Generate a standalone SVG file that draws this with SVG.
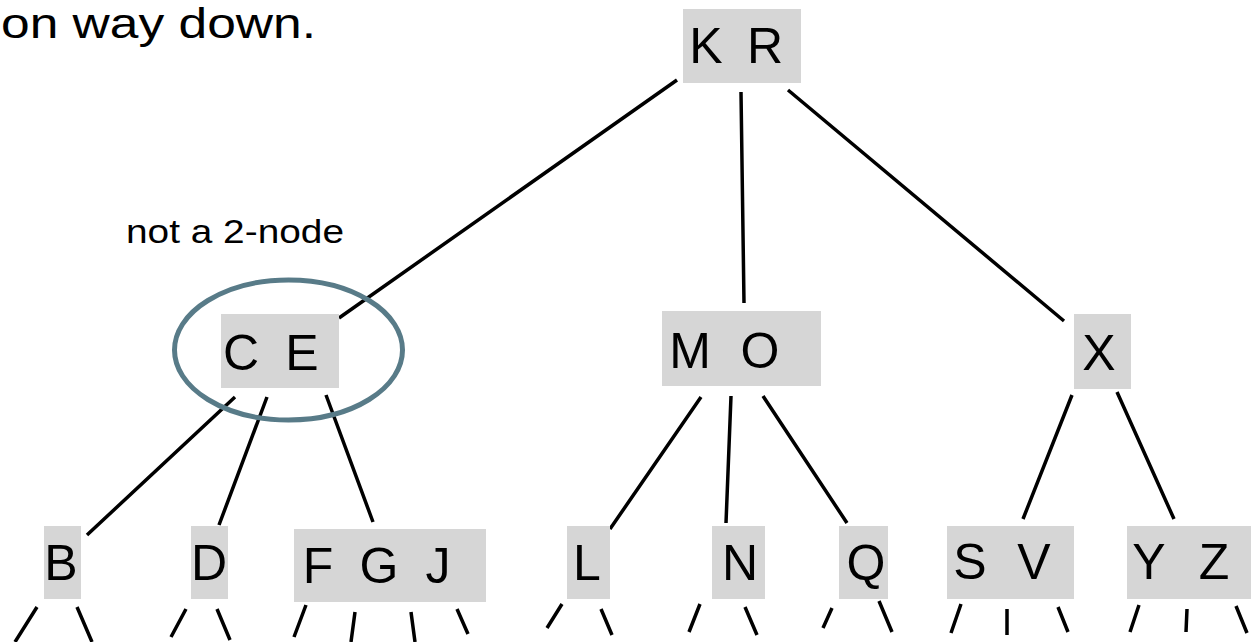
<svg xmlns="http://www.w3.org/2000/svg" width="1252" height="642" viewBox="0 0 1252 642">
<style>
.box{fill:#d6d6d6}
.k{font-family:"Liberation Sans","DejaVu Sans",sans-serif;font-size:50px;fill:#000;text-anchor:middle}
.edge{stroke:#000;stroke-width:3.5;stroke-linecap:butt;fill:none}
.lbl{font-family:"Liberation Sans",Arial,sans-serif;fill:#000}
</style>
<rect width="1252" height="642" fill="#fff"/>
<text class="lbl" x="1" y="38" font-size="42" textLength="315" lengthAdjust="spacingAndGlyphs">on way down.</text>
<text class="lbl" x="126" y="243" font-size="34" textLength="218" lengthAdjust="spacingAndGlyphs">not a 2-node</text>
<g id="connectors">
<path class="edge" d="M677 80L339 318M741 92L744 303M788 90L1064 321"/>
<path class="edge" d="M235 397L87 535M267 397L219 525M326 395L373 522"/>
<path class="edge" d="M701 397L610 529M731 396L726 523M763 396L847 523"/>
<path class="edge" d="M1072 395L1023 519M1117 392L1174 519"/>
<path class="edge" d="M37 607L15 642M77 607L92 642M186 609L171 637M217 609L230 640M306 605L294 637M355 612L351 642M411 612L415 642M457 609L468 634"/>
<path class="edge" d="M562 604L547 628M601 609L612 635M700 604L689 632M745 607L757 635M832 608L823 628M879 601L892 632"/>
<path class="edge" d="M961 604L951 633M1007 609L1007 635M1058 607L1068 632M1139 605L1130 632M1187 609L1186 632M1236 606L1247 633"/>
</g>
<g id="node-KR"><rect class="box" x="683" y="9" width="118" height="74"/><text class="k" x="706" y="63">K</text><text class="k" x="765" y="63">R</text></g>
<g id="node-CE"><rect class="box" x="221" y="314" width="118" height="74"/><text class="k" x="241" y="370">C</text><text class="k" x="302" y="370">E</text></g>
<g id="highlight"><ellipse cx="288.5" cy="350" rx="114" ry="70" fill="none" stroke="#587b88" stroke-width="5"/></g>
<g id="node-MO"><rect class="box" x="662" y="311" width="159" height="75"/><text class="k" x="690" y="368">M</text><text class="k" x="760" y="368">O</text></g>
<g id="node-X"><rect class="box" x="1074" y="314" width="57" height="75"/><text class="k" x="1099" y="370">X</text></g>
<g id="node-B"><rect class="box" x="44" y="526" width="37" height="73"/><text class="k" x="61" y="580">B</text></g>
<g id="node-D"><rect class="box" x="191" y="526" width="37" height="73"/><text class="k" x="209" y="580">D</text></g>
<g id="node-FGJ"><rect class="box" x="294" y="529" width="192" height="73"/><text class="k" x="318" y="583">F</text><text class="k" x="379" y="583">G</text><text class="k" x="438" y="583">J</text></g>
<g id="node-L"><rect class="box" x="567" y="526" width="43" height="73"/><text class="k" x="587" y="580">L</text></g>
<g id="node-N"><rect class="box" x="712" y="526" width="53" height="73"/><text class="k" x="740" y="580">N</text></g>
<g id="node-Q"><rect class="box" x="839" y="526" width="49" height="73"/><text class="k" x="866" y="580">Q</text></g>
<g id="node-SV"><rect class="box" x="947" y="526" width="127" height="73"/><text class="k" x="970" y="579">S</text><text class="k" x="1034" y="579">V</text></g>
<g id="node-YZ"><rect class="box" x="1127" y="526" width="124" height="73"/><text class="k" x="1149" y="579">Y</text><text class="k" x="1214" y="579">Z</text></g>
</svg>
